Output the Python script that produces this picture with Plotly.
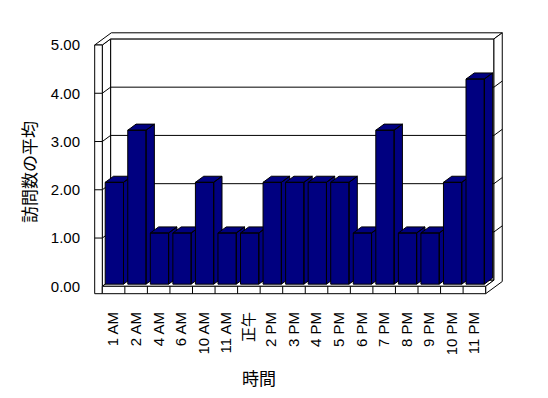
import plotly.graph_objects as go

# ---------------- data ----------------
categories = ["1 AM", "2 AM", "4 AM", "6 AM", "10 AM", "11 AM", "正午", "2 PM", "3 PM",
              "4 PM", "5 PM", "6 PM", "7 PM", "8 PM", "9 PM", "10 PM", "11 PM"]
values = [2.11, 3.19, 1.06, 1.06, 2.11, 1.06, 1.06, 2.11, 2.11,
          2.11, 2.11, 1.06, 3.19, 1.06, 1.06, 2.11, 4.25]
y_ticks = [0, 1, 2, 3, 4, 5]
y_tick_labels = ["0.00", "1.00", "2.00", "3.00", "4.00", "5.00"]
x_title = "時間"
y_title = "訪問数の平均"

# ---------------- layout geometry (page pixels) ----------------
PAGE_W, PAGE_H = 548, 398
BODY_MARGIN = 8                            # default page margin around the figure div
W, H = PAGE_W - 2 * BODY_MARGIN, PAGE_H - 2 * BODY_MARGIN
PL, PR, PT, PB = 88, 512, 20, 300          # plot area in page pixels
X0_PX, CAT_PX = 102.3, 22.55               # front-left of floor, width of one category
Y0_PX, UNIT_PX = 286.3, 48.26              # value 0 on the front plane, px per unit
DEPTH_PX = (8.3, -6.1)                     # one unit of depth
WALL_T_PX, FLOOR_T_PX = 7.6, 7.4
BAR_W_PX, BAR_DEPTH_POS = 18.3, 0.35

du = DEPTH_PX[0] / CAT_PX
dv = -DEPTH_PX[1] / UNIT_PX
xr = [(PL - X0_PX) / CAT_PX, (PR - X0_PX) / CAT_PX]
yr = [(Y0_PX - PB) / UNIT_PX, (Y0_PX - PT) / UNIT_PX]
n = len(categories)
ymax = y_ticks[-1]
wt = WALL_T_PX / CAT_PX
ft = FLOOR_T_PX / UNIT_PX
bw = BAR_W_PX / CAT_PX

NAVY = "#000080"
LINE = dict(color="black", width=1)


def P(u, v, d):
    return (u + d * du, v + d * dv)


fig = go.Figure()


def poly(polys, fill):
    xs, ys = [], []
    for pts in polys:
        pts = list(pts) + [pts[0]]
        xs += [p[0] for p in pts] + [None]
        ys += [p[1] for p in pts] + [None]
    fig.add_trace(go.Scatter(x=xs, y=ys, mode="lines", fill="toself", fillcolor=fill,
                             line=LINE, hoverinfo="skip", showlegend=False))


def lines(segs):
    xs, ys = [], []
    for pts in segs:
        xs += [p[0] for p in pts] + [None]
        ys += [p[1] for p in pts] + [None]
    fig.add_trace(go.Scatter(x=xs, y=ys, mode="lines", line=LINE,
                             hoverinfo="skip", showlegend=False))


# back wall inner face, left wall inner side, floor top
poly([[P(0, 0, 1), P(n, 0, 1), P(n, ymax, 1), P(0, ymax, 1)]], "white")
poly([[P(0, 0, 0), P(0, ymax, 0), P(0, ymax, 1), P(0, 0, 1)]], "white")
poly([[P(0, 0, 0), P(n, 0, 0), P(n, 0, 1), P(0, 0, 1)]], "white")
# gridlines
lines([[P(0, k, 0), P(0, k, 1), P(n, k, 1)] for k in y_ticks[1:-1]])
# top face of walls
poly([[P(-wt, ymax, 0), P(0, ymax, 0), P(0, ymax, 1), P(n, ymax, 1),
       P(n, ymax, 2), P(-wt, ymax, 2)]], "white")
# right side face of back wall + floor
poly([[P(n, 0, 0), P(n, -ft, 0), P(n, -ft, 2), P(n, ymax, 2), P(n, ymax, 1), P(n, 0, 1)]], "white")
lines([[P(n, k, 1), P(n, k, 2)] for k in y_ticks[1:-1]])
# left wall front face + ticks
poly([[P(-wt, -ft, 0), P(0, -ft, 0), P(0, ymax, 0), P(-wt, ymax, 0)]], "white")
lines([[P(-wt, k, 0), P(0, k, 0)] for k in y_ticks[1:-1]])
# floor front face + category dividers
poly([[P(0, -ft, 0), P(n, -ft, 0), P(n, 0, 0), P(0, 0, 0)]], "white")
lines([[P(i, -ft, 0), P(i, 0, 0)] for i in range(1, n)])

# bars
f = BAR_DEPTH_POS
for i, h in enumerate(values):
    front = [P(i, 0, f), P(i + bw, 0, f), P(i + bw, h, f), P(i, h, f)]
    top = [P(i, h, f), P(i + bw, h, f), P(i + bw, h, f + 1), P(i, h, f + 1)]
    side = [P(i + bw, 0, f), P(i + bw, 0, f + 1), P(i + bw, h, f + 1), P(i + bw, h, f)]
    poly([front, top, side], NAVY)

TICK_FONT = dict(family="Liberation Sans, Noto Sans CJK JP", size=15, color="black")
TITLE_FONT = dict(family="Noto Sans CJK JP", size=17, color="black")


def paper_x(px):
    return (px - PL) / (PR - PL)


def paper_y(py):
    return (PB - py) / (PB - PT)


fig.update_layout(
    width=W, height=H,
    margin=dict(l=PL - BODY_MARGIN, r=W - (PR - BODY_MARGIN), t=PT - BODY_MARGIN,
                b=H - (PB - BODY_MARGIN), pad=0, autoexpand=False),
    paper_bgcolor="white", plot_bgcolor="white",
    showlegend=False,
    xaxis=dict(range=xr, showgrid=False, zeroline=False, showline=False,
               tickmode="array", tickvals=[i + 0.5 for i in range(n)], ticktext=categories,
               tickangle=-90, ticks="outside", ticklen=5, tickcolor="rgba(0,0,0,0)",
               tickfont=TICK_FONT, fixedrange=True),
    yaxis=dict(range=yr, showgrid=False, zeroline=False, showline=False,
               tickmode="array", tickvals=y_ticks, ticktext=y_tick_labels,
               ticks="outside", ticklen=4, tickcolor="rgba(0,0,0,0)",
               tickfont=TICK_FONT, fixedrange=True),
    annotations=[
        dict(text=x_title, x=paper_x(259), y=paper_y(377),
             xref="paper", yref="paper", showarrow=False, font=TITLE_FONT,
             xanchor="center", yanchor="middle"),
        dict(text=y_title, x=paper_x(28), y=paper_y(172),
             xref="paper", yref="paper", showarrow=False, font=TITLE_FONT, textangle=-90,
             xanchor="center", yanchor="middle"),
    ],
)

fig.write_html("out.html")
